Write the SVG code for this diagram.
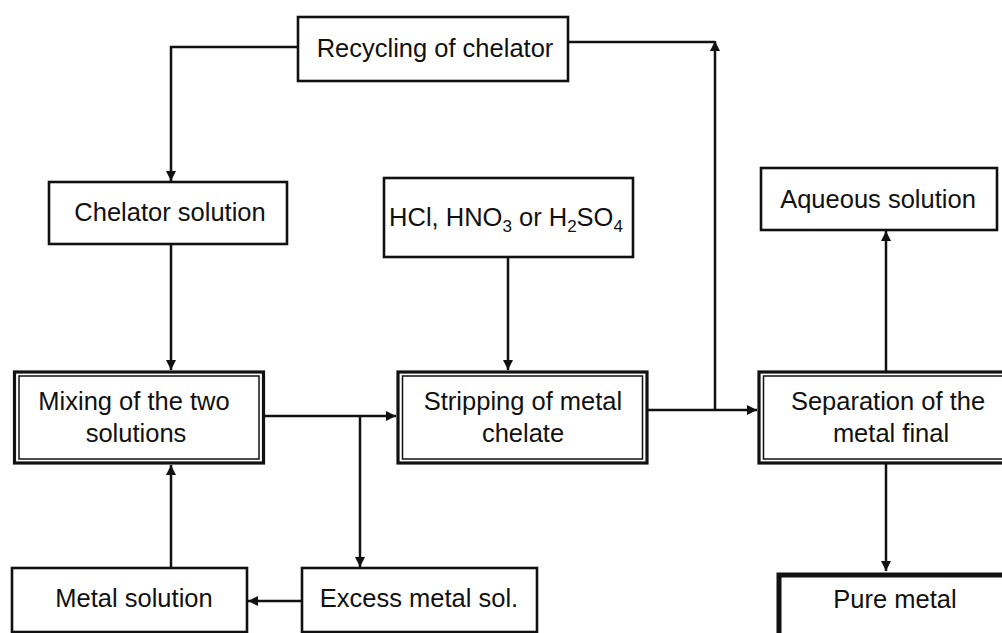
<svg xmlns="http://www.w3.org/2000/svg" width="1002" height="633" viewBox="0 0 1002 633">
<style>
text{font-family:"Liberation Sans",Arial,sans-serif;font-size:25.5px;fill:#111;text-anchor:middle}
.box{fill:#fff;stroke:#111;stroke-width:2.6}
.outer{fill:#fff;stroke:#111;stroke-width:3.2}
.inner{fill:none;stroke:#111;stroke-width:1.5}
.thick{fill:#fff;stroke:#111;stroke-width:5}
.ln{fill:none;stroke:#111;stroke-width:2.5}
</style>
<defs>
<marker id="ah" viewBox="0 0 10 10" refX="10" refY="5" markerWidth="10" markerHeight="10" markerUnits="userSpaceOnUse" orient="auto">
<path d="M0,0 L10,5 L0,10 Z" fill="#111"/>
</marker>
</defs>
<rect width="1002" height="633" fill="#fff"/>
<g id="connectors">
<path class="ln" d="M298,47 H171 V181" marker-end="url(#ah)"/>
<path class="ln" d="M171,244 V370" marker-end="url(#ah)"/>
<path class="ln" d="M171,568 V465" marker-end="url(#ah)"/>
<path class="ln" d="M264,416 H396" marker-end="url(#ah)"/>
<path class="ln" d="M360,416 V567" marker-end="url(#ah)"/>
<path class="ln" d="M302,601 H248" marker-end="url(#ah)"/>
<path class="ln" d="M508,257 V370" marker-end="url(#ah)"/>
<path class="ln" d="M648,410 H757" marker-end="url(#ah)"/>
<path class="ln" d="M715,410 V41" marker-end="url(#ah)"/>
<path class="ln" d="M568,42 H715"/>
<path class="ln" d="M886,371 V231" marker-end="url(#ah)"/>
<path class="ln" d="M886,464 V571" marker-end="url(#ah)"/>
</g>
<g id="recycling">
<rect class="box" x="298" y="17" width="270" height="64"/>
<text x="435" y="57">Recycling of chelator</text>
</g>
<g id="chelator">
<rect class="box" x="49" y="182" width="238" height="62"/>
<text x="170" y="221">Chelator solution</text>
</g>
<g id="acid">
<rect class="box" x="384" y="178" width="249" height="79"/>
<text x="506" y="226">HCl, HNO<tspan font-size="17" dy="6">3</tspan><tspan dy="-6"> or H</tspan><tspan font-size="17" dy="6">2</tspan><tspan dy="-6">SO</tspan><tspan font-size="17" dy="6">4</tspan></text>
</g>
<g id="aqueous">
<rect class="box" x="761" y="168" width="236" height="62"/>
<text x="878" y="208">Aqueous solution</text>
</g>
<g id="mixing">
<rect class="outer" x="14.5" y="372" width="249" height="91"/>
<rect class="inner" x="19" y="376" width="240" height="83"/>
<text x="134" y="410">Mixing of the two</text>
<text x="136" y="442">solutions</text>
</g>
<g id="stripping">
<rect class="outer" x="398" y="372" width="249" height="91"/>
<rect class="inner" x="402.5" y="376" width="240" height="83"/>
<text x="523" y="410">Stripping of metal</text>
<text x="523" y="442">chelate</text>
</g>
<g id="separation">
<rect class="outer" x="759" y="372" width="260" height="91"/>
<rect class="inner" x="763.5" y="376" width="250" height="83"/>
<text x="888" y="410">Separation of the</text>
<text x="891" y="442">metal final</text>
</g>
<g id="metal">
<rect class="box" x="12" y="568" width="235" height="64"/>
<text x="134" y="607">Metal solution</text>
</g>
<g id="excess">
<rect class="box" x="302" y="568" width="235" height="64"/>
<text x="419" y="607">Excess metal sol.</text>
</g>
<g id="pure">
<rect class="thick" x="779" y="575" width="240" height="70"/>
<text x="895" y="608">Pure metal</text>
</g>
</svg>
